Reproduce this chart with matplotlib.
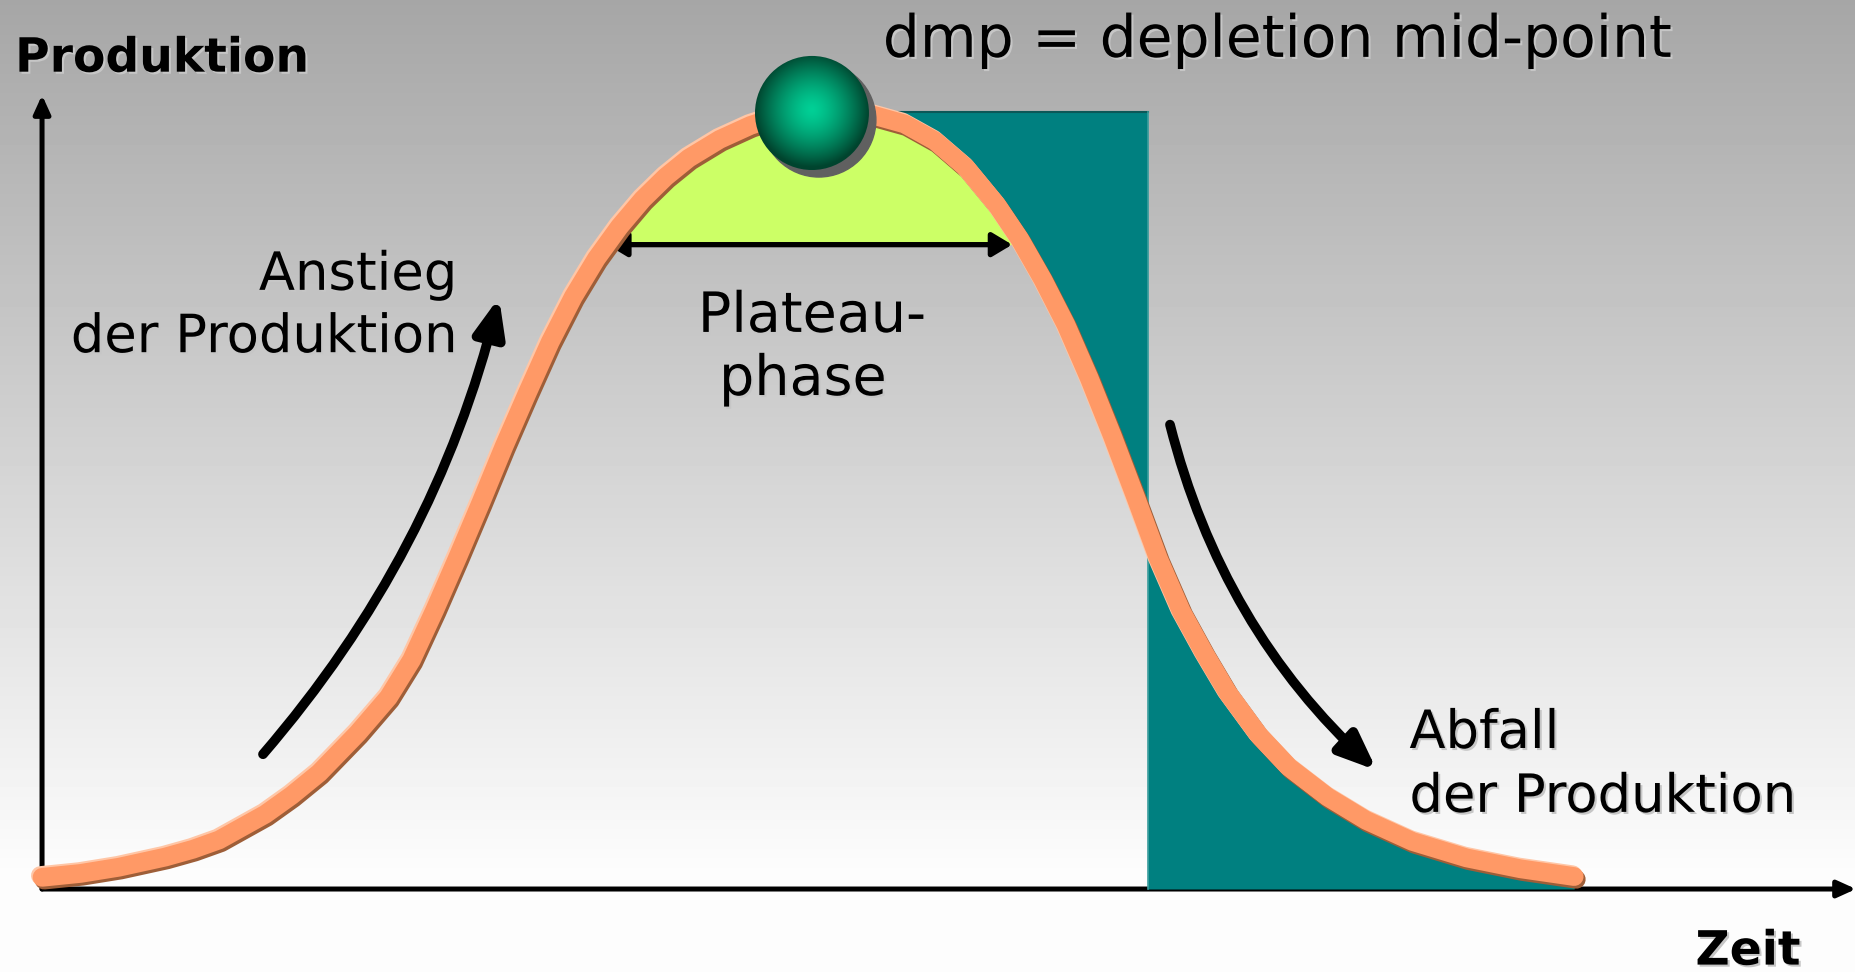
import numpy as np
import matplotlib
matplotlib.use("Agg")
import matplotlib.pyplot as plt
import matplotlib.patheffects as pe
from matplotlib.patches import Ellipse, FancyArrowPatch, ArrowStyle

# Förderkurve (Zeit in willk. Einheiten, Produktion in % vom Maximum)
zeit = [0, 2.5, 5, 8, 9.8, 11.5, 14.5, 16.2, 18, 20.5, 22.5, 24, 25.5, 27, 28.5, 30, 31.5, 33, 34.5,
        36, 37.5, 39, 40.5, 42, 44, 46, 48, 50,
        52, 54, 56, 58, 60, 62, 63.5, 65, 66.5, 68, 69.5, 71, 72.5, 74, 75.5, 77, 79,
        81, 83.5, 86, 89, 92.5, 96, 99.5]
produktion = [1.5, 2.0, 2.8, 4.1, 5.1, 6.3, 9.6, 12.0, 14.9, 20.0, 24.6, 29.4, 35.8, 42.6, 49.6, 56.8,
              63.6, 70.2, 76.0, 80.9, 85.0, 88.5, 91.4, 93.8, 96.2, 98.0, 99.3, 100,
              99.8, 99.3, 98.2, 96.0, 92.6, 87.8, 83.4, 78.2, 72.4, 65.6, 58.2, 50.4, 42.4,
              35.6, 30.2, 25.2, 19.8, 15.6, 11.8, 8.8, 6.1, 4.0, 2.6, 1.6]

plateau_niveau = 82.7          # Höhe des Plateau-Pfeils
plateau_von, plateau_bis = 36.7, 63.0
block_ende = 71.8              # rechte Kante des türkisen Blocks
block_oben = 99.7

titel_y = "Produktion"
titel_x = "Zeit"
dmp_text = "dmp = depletion mid-point"
anstieg = ["Anstieg", "der Produktion"]
plateau = ["Plateau-", "phase"]
abfall = ["Abfall", "der Produktion"]

t = np.array(zeit)
p = np.array(produktion)

fig = plt.figure(figsize=(18.56, 9.72), dpi=100)
ax = fig.add_axes([0, 0, 1, 1])
x0, x1 = -2.73, 117.8
y0, y1 = -10.65, 114.1
ax.axis("off")

# grauer Hintergrundverlauf
zeilen = np.linspace(0, 972, 300)
grau = np.interp(zeilen, [0, 880, 972], [166, 253, 253]) / 255
ax.imshow(grau[:, None], cmap="gray", vmin=0, vmax=1, extent=[x0, x1, y0, y1],
          aspect="auto", zorder=0)

# Achsen als Pfeile
achse = dict(arrowstyle=ArrowStyle("-|>", head_length=1.1, head_width=0.5),
             mutation_scale=10, lw=3.6, color="black", shrinkA=0, shrinkB=0, zorder=2)
ax.add_patch(FancyArrowPatch((0, 0), (0, 101.9), **achse))
ax.add_patch(FancyArrowPatch((0, 0), (x1, 0), **achse))

# türkiser Block: oberhalb der Kurve bis zur Kante, danach Fläche unter der Kurve
t_oben = np.append(t[(t >= 50) & (t < block_ende)], block_ende)
ax.fill_between(t_oben, np.interp(t_oben, t, p), block_oben, color="#008080", lw=0, zorder=2)
t_unten = np.insert(t[t > block_ende], 0, block_ende)
ax.fill_between(t_unten, 0, np.interp(t_unten, t, p), color="#008080", lw=0, zorder=2)
ax.plot([50, block_ende], [block_oben, block_oben], color="#0b5858", lw=1.5, zorder=2)
ax.plot([block_ende, block_ende], [0, block_oben], color="#3a9d9d", lw=1.2, zorder=2)

# Plateau-Fläche
ax.fill_between(t, p, plateau_niveau, where=p >= plateau_niveau, interpolate=True,
                color="#CCFF66", lw=0, zorder=2)

# Förderkurve mit Licht und Schatten
ax.plot(t, p, color="#FF9966", lw=13.5, solid_capstyle="round", solid_joinstyle="round", zorder=4,
        path_effects=[pe.SimpleLineShadow(offset=(1.5, -2.0), shadow_color="#9E5E38", alpha=1),
                      pe.SimpleLineShadow(offset=(-1.2, 1.3), shadow_color="#FFC6A6", alpha=1),
                      pe.Normal()])

# Kugel am Depletion mid-point
ball_t = t[np.argmax(p)]
ball_p = 99.6
rx, ry = 3.70, 7.32
ax.add_patch(Ellipse((ball_t + 0.45, ball_p - 0.9), 2 * rx, 2 * ry, color="#606060", zorder=5))
yy, xx = np.mgrid[-1:1:300j, -1:1:300j]
r = np.clip(np.hypot(xx, yy + 0.05), 0, 1)
c_innen = np.array([0, 208, 150]) / 255
c_aussen = np.array([0, 68, 46]) / 255
bild = c_innen + (c_aussen - c_innen) * (r[..., None] ** 1.4)
im = ax.imshow(bild, extent=[ball_t - rx, ball_t + rx, ball_p - ry, ball_p + ry],
               aspect="auto", zorder=6)
rand = Ellipse((ball_t, ball_p), 2 * rx, 2 * ry, facecolor="none", edgecolor="none")
ax.add_patch(rand)
im.set_clip_path(rand)

# gebogene Pfeile
for (a, b, rad) in [((14.35, 17.3), (29.7, 76.1), 0.12), ((73.25, 59.6), (86.75, 15.1), 0.15)]:
    ax.add_patch(FancyArrowPatch(a, b, connectionstyle=f"arc3,rad={rad}",
                                 arrowstyle=ArrowStyle("-|>", head_length=1.1, head_width=0.45),
                                 mutation_scale=20, lw=7, color="black", capstyle="round",
                                 joinstyle="round", shrinkA=0, shrinkB=1, zorder=3))

# Plateau-Doppelpfeil
ax.add_patch(FancyArrowPatch((plateau_von, plateau_niveau), (plateau_bis, plateau_niveau),
                             arrowstyle=ArrowStyle("<|-|>", head_length=1.0, head_width=0.6),
                             mutation_scale=12, lw=3.8, color="black", joinstyle="round",
                             shrinkA=0, shrinkB=0, zorder=3))

# Beschriftung
schatten = [pe.SimplePatchShadow(offset=(1.5, -1.5), shadow_rgbFace="#c6c6c6", alpha=1),
            pe.Normal()]
txt = dict(color="black", va="baseline", path_effects=schatten, zorder=7)
ax.text(-1.75, 104.9, titel_y, fontsize=34, fontweight="bold", ha="left", **txt)
ax.text(114.2, -9.7, titel_x, fontsize=34, fontweight="bold", ha="right", **txt)
ax.text(54.6, 106.8, dmp_text, fontsize=42, ha="left", **txt)
ax.text(26.95, 76.9, anstieg[0], fontsize=38, ha="right", **txt)
ax.text(26.95, 68.9, anstieg[1], fontsize=38, ha="right", **txt)
ax.text(50, 71.5, plateau[0], fontsize=40, ha="center", **txt)
ax.text(49.4, 63.4, plateau[1], fontsize=40, ha="center", **txt)
ax.text(88.8, 18.1, abfall[0], fontsize=38, ha="left", **txt)
ax.text(88.8, 9.9, abfall[1], fontsize=38, ha="left", **txt)

ax.set_xlim(x0, x1)
ax.set_ylim(y0, y1)
fig.savefig("out.png", dpi=100)
